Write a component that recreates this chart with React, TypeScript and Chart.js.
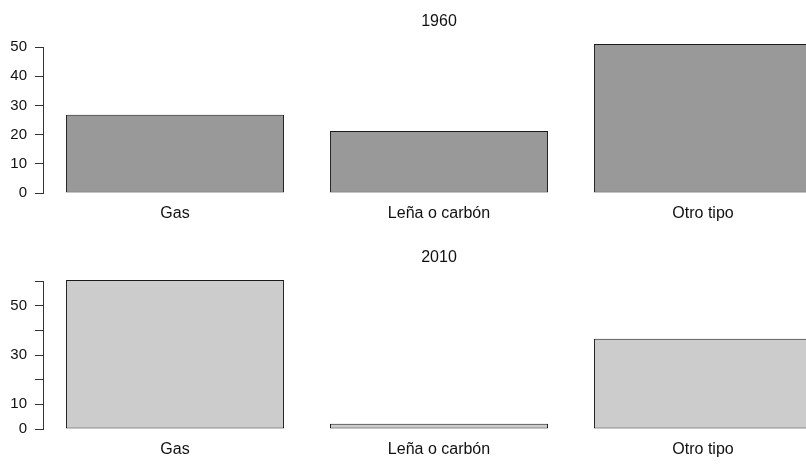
import React, { useEffect, useRef } from "react";
import { Chart, registerables } from "chart.js";

Chart.register(...registerables);

const categories = ["Gas", "Leña o carbón", "Otro tipo"];
const values1960 = [26.8, 21.2, 51.0];
const values2010 = [60.4, 2.1, 36.6];
const ticks1960 = [0, 10, 20, 30, 40, 50];
const tickLabels1960 = ["0", "10", "20", "30", "40", "50"];
const ticks2010 = [0, 10, 20, 30, 40, 50, 60];
const tickLabels2010 = ["0", "10", "", "30", "", "50", ""];
const positions = [1, 2, 3];

const FONT = "'Liberation Sans', Arial, Helvetica, sans-serif";

function makeConfig(
  title: string,
  values: number[],
  yTicks: number[],
  yLabels: string[],
  fill: string,
  padTop: number,
  xAxisHeight: number,
  titleOffset: number
): any {
  const titlePlugin = {
    id: "rtitle",
    afterDraw(chart: any) {
      const ctx = chart.ctx;
      ctx.save();
      ctx.font = `16px ${FONT}`;
      ctx.fillStyle = "#111";
      ctx.textAlign = "center";
      ctx.textBaseline = "middle";
      const x = chart.scales.x.getPixelForValue(2);
      ctx.fillText(title, x, chart.chartArea.top - titleOffset);
      ctx.restore();
    },
  };
  return {
    type: "bar",
    data: {
      datasets: [
        {
          data: positions.map((p, i) => ({ x: p, y: values[i] })),
          backgroundColor: fill,
          borderColor: "#1a1a1a",
          borderWidth: 1,
          borderSkipped: false,
          categoryPercentage: 1,
          barPercentage: 0.826,
          clip: false,
        },
      ],
    },
    options: {
      responsive: false,
      animation: false,
      layout: { padding: { top: padTop, left: 0, right: 0, bottom: 0 } },
      plugins: { legend: { display: false }, tooltip: { enabled: false }, title: { display: false } },
      scales: {
        x: {
          type: "linear",
          min: 0.5,
          max: 0.5 + 763 / 264,
          bounds: "data",
          offset: false,
          grace: 0,
          grid: { display: false, offset: false },
          border: { display: false },
          afterBuildTicks(scale: any) {
            scale.ticks = positions.map((v) => ({ value: v }));
          },
          afterFit(scale: any) {
            scale.height = xAxisHeight;
          },
          ticks: {
            autoSkip: false,
            maxRotation: 0,
            padding: 3,
            color: "#111",
            font: { family: FONT, size: 16 },
            callback: (v: number) => categories[Math.round(v) - 1] ?? "",
          },
        },
        y: {
          type: "linear",
          min: yTicks[0],
          max: yTicks[yTicks.length - 1],
          afterBuildTicks(scale: any) {
            scale.ticks = yTicks.map((v) => ({ value: v }));
          },
          afterFit(scale: any) {
            scale.width = 43;
          },
          grid: {
            display: true,
            drawOnChartArea: false,
            drawTicks: true,
            tickLength: 8,
            color: "#333",
            lineWidth: 1,
          },
          border: { display: true, color: "#333", width: 1 },
          ticks: {
            autoSkip: false,
            padding: 8,
            color: "#111",
            font: { family: FONT, size: 15 },
            callback: (v: number) => {
              const i = yTicks.indexOf(v);
              return i >= 0 ? yLabels[i] : "";
            },
          },
        },
      },
    },
    plugins: [titlePlugin],
  };
}

function Panel(props: { cfg: any }) {
  const ref = useRef<HTMLCanvasElement>(null);
  useEffect(() => {
    const chart = new Chart(ref.current as HTMLCanvasElement, props.cfg);
    return () => chart.destroy();
  }, []);
  return <canvas ref={ref} width={806} height={235} style={{ display: "block" }} />;
}

export default function App() {
  return (
    <div style={{ position: "absolute", left: 0, top: 0, width: 806, height: 470, background: "#fff" }}>
      <Panel cfg={makeConfig("1960", values1960, ticks1960, tickLabels1960, "#999999", 47, 42, 25)} />
      <Panel cfg={makeConfig("2010", values2010, ticks2010, tickLabels2010, "#cccccc", 46, 41, 23)} />
    </div>
  );
}
